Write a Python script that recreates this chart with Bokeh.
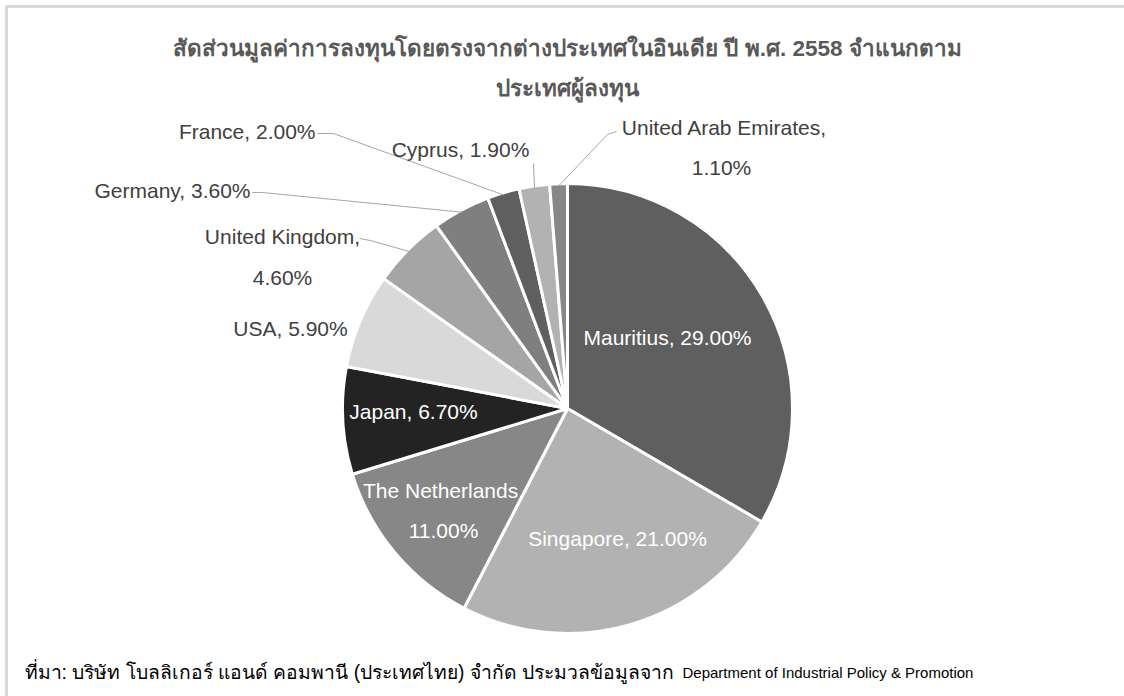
import math
from bokeh.plotting import figure
from bokeh.models import ColumnDataSource, Range1d
from bokeh.embed import file_html
from bokeh.resources import INLINE
from bokeh.core.properties import value

# ---- data ----
countries = ["Mauritius", "Singapore", "The Netherlands", "Japan", "USA",
             "United Kingdom", "Germany", "France", "Cyprus", "United Arab Emirates"]
shares = [29.0, 21.0, 11.0, 6.7, 5.9, 4.6, 3.6, 2.0, 1.9, 1.1]
colors = ["#5f5f5f", "#b2b2b2", "#878787", "#232323", "#d9d9d9",
          "#a5a5a5", "#7f7f7f", "#5f5f5f", "#b2b2b2", "#878787"]
title_lines = ["สัดส่วนมูลค่าการลงทุนโดยตรงจากต่างประเทศในอินเดีย ปี พ.ศ. 2558 จำแนกตาม",
               "ประเทศผู้ลงทุน"]
source_thai = "ที่มา: บริษัท โบลลิเกอร์ แอนด์ คอมพานี (ประเทศไทย) จำกัด ประมวลข้อมูลจาก"
source_en = "Department of Industrial Policy & Promotion"

# ---- layout ----
W, H = 1124, 696
OFF = 0


def X(px):
    return px - OFF


def Y(py):
    return H - (py - OFF)


CX, CY, R = X(567), Y(408), 225

p = figure(width=W, height=H, output_backend="svg", toolbar_location=None,
           x_range=Range1d(0, W), y_range=Range1d(0, H), min_border=0,
           outline_line_color=None, background_fill_color="white")
p.axis.visible = False
p.grid.visible = False

# border (top and left visible in reference)
p.segment(x0=[X(5), X(6)], y0=[Y(6), Y(5)], x1=[W, X(6)], y1=[Y(6), 0],
          line_color="#d9d9d9", line_width=3)

# ---- pie ----
total = sum(shares)
starts, ends, mids = [], [], []
cum = 0.0
for s in shares:
    a0 = math.pi / 2 - 2 * math.pi * (cum + s) / total
    a1 = math.pi / 2 - 2 * math.pi * cum / total
    starts.append(a0)
    ends.append(a1)
    mids.append((a0 + a1) / 2)
    cum += s

src = ColumnDataSource(dict(start=starts, end=ends, color=colors, country=countries, share=shares))
p.wedge(x=CX, y=CY, radius=R, radius_units="screen", start_angle="start", end_angle="end",
        fill_color="color", line_color="white", line_width=3, source=src)


def edge(i, f=1.0):
    a = mids[i]
    return CX + R * f * math.cos(a), CY + R * f * math.sin(a)


def lab(i):
    return f"{countries[i]}, {shares[i]:.2f}%"


FONT = value("Liberation Sans")
FS = "21px"
dark = "#404040"

# inside labels (white)
inside = [
    (0, [lab(0)], [(667, 337)]),
    (1, [lab(1)], [(617, 538)]),
    (2, [countries[2] + ",", f"{shares[2]:.2f}%"], [(443, 490), (443, 530)]),
    (3, [lab(3)], [(413, 411)]),
]
for i, lines, pos in inside:
    p.text(x=[X(a) for a, b in pos], y=[Y(b) for a, b in pos], text=lines,
           text_color="white", text_font=FONT, text_font_size=FS,
           text_align="center", text_baseline="middle")

# outside labels
outside = [
    (7, [lab(7)], [(315, 131)], "right", [(317, 133), (333, 133)]),
    (6, [lab(6)], [(250, 190)], "right", [(252, 192), (262, 192)]),
    (5, [countries[5] + ",", f"{shares[5]:.2f}%"], [(282, 236), (282, 277)], "center",
     [(359, 238), (370, 240)]),
    (4, [lab(4)], [(290, 328)], "center", None),
    (8, [lab(8)], [(460, 149)], "center", [(533, 163)]),
    (9, [countries[9] + ",", f"{shares[9]:.2f}%"], [(724, 127), (721, 167)], "center",
     [(616, 131), (607, 134)]),
]
for i, lines, pos, align, lead in outside:
    p.text(x=[X(a) for a, b in pos], y=[Y(b) for a, b in pos], text=lines,
           text_color=dark, text_font=FONT, text_font_size=FS,
           text_align=align, text_baseline="middle")
    if lead:
        ex, ey = edge(i, 0.99)
        xs = [X(a) for a, b in lead] + [ex]
        ys = [Y(b) for a, b in lead] + [ey]
        p.line(x=xs, y=ys, line_color="#a6a6a6", line_width=1)

# title
p.text(x=[X(567), X(567)], y=[Y(48), Y(88)], text=title_lines, text_color="#595959",
       text_font=value("Liberation Sans"), text_font_size="22.5px", text_font_style="bold",
       text_align="center", text_baseline="middle")

# source
p.text(x=[X(24)], y=[Y(672)], text=[source_thai], text_color="#000000",
       text_font=value("Liberation Sans"), text_font_size="19.3px",
       text_align="left", text_baseline="middle")
p.text(x=[X(682)], y=[Y(672)], text=[source_en], text_color="#000000",
       text_font=value("Liberation Sans"), text_font_size="15px",
       text_align="left", text_baseline="middle")

open("out.html", "w").write(file_html(p, INLINE))
